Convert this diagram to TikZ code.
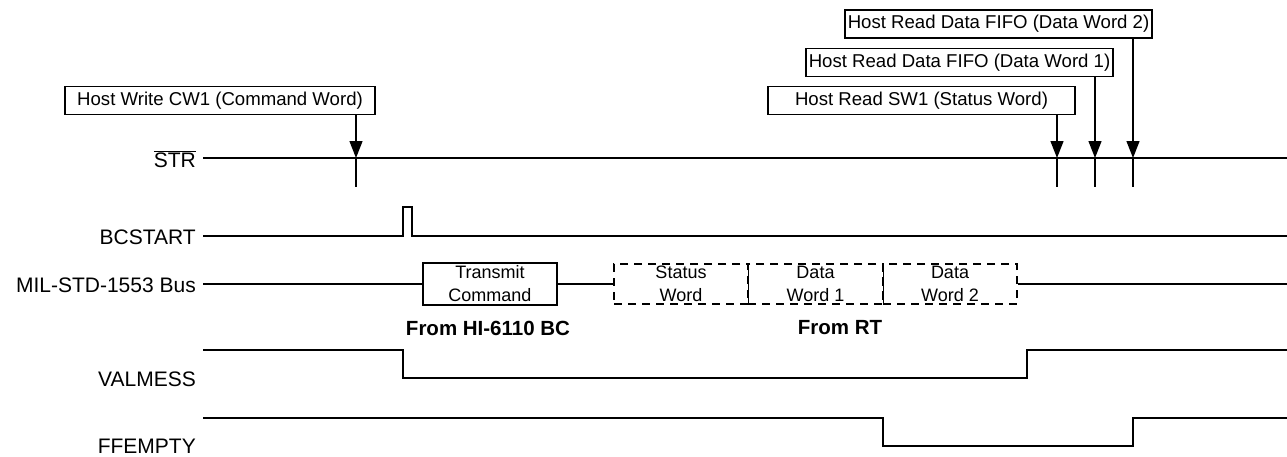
\documentclass[tikz,border=0pt]{standalone}
\usepackage{fontspec}
\setmainfont{Liberation Sans}
\usetikzlibrary{arrows.meta}
\begin{document}
\begin{tikzpicture}[x=1pt,y=-1pt,
  sig/.style={line width=1.3pt,line join=miter},
  lbl/.style={anchor=east,inner sep=0pt,font=\fontsize{21}{24}\selectfont},
  hostbox/.style={draw,line width=1.2pt,minimum height=28pt,inner xsep=2pt,inner ysep=0pt,font=\fontsize{18.6}{22}\selectfont},
  wordbox/.style={draw,line width=1.2pt,minimum width=134pt,minimum height=42pt,inner sep=0pt,align=center,font=\fontsize{18}{23}\selectfont},
  rtbox/.style={wordbox,minimum height=40pt,dash pattern=on 8pt off 6pt},
  arr/.style={line width=1.3pt,-{Triangle[length=17pt,width=13pt]}},
  boldlbl/.style={inner sep=0pt,font=\fontsize{20.5}{24}\selectfont\bfseries}
]
\useasboundingbox (0,0) rectangle (1287,456);

% ---- labels
\node[lbl] (lstr) at (196,159) {$\overline{\mbox{STR}}$};
\node[lbl] (lbc)  at (196,237) {BCSTART};
\node[lbl] (lbus) at (196,285) {MIL-STD-1553 Bus};
\node[lbl] (lval) at (196,379) {VALMESS};
\node[lbl] (lff)  at (196,446.5) {FFEMPTY};

% ---- host boxes
\node[hostbox,minimum width=310pt] (hw)  at (220,100.5)  {Host Write CW1 (Command Word)};
\node[hostbox,minimum width=307pt] (hs1) at (921.5,100.5) {Host Read SW1 (Status Word)};
\node[hostbox,minimum width=307pt] (hd1) at (959.5,62.5)  {Host Read Data FIFO (Data Word 1)};
\node[hostbox,minimum width=307pt] (hd2) at (998.5,24)    {Host Read Data FIFO (Data Word 2)};

% ---- STR
\coordinate (s0) at (203,158);
\coordinate (s1) at (1287,158);
\coordinate (tA) at (356,158);
\coordinate (tB) at (1057,158);
\coordinate (tC) at (1095,158);
\coordinate (tD) at (1133,158);
\draw[sig] (s0) -- (s1);
\foreach \t in {tA,tB,tC,tD} \draw[sig] (\t) -- ++(0,29);
\draw[arr] (hw.south -| tA) -- (tA);
\draw[arr] (hs1.south -| tB) -- (tB);
\draw[arr] (hd1.south -| tC) -- (tC);
\draw[arr] (hd2.south -| tD) -- (tD);

% ---- BCSTART
\coordinate (c0) at (203,236);
\coordinate (c1) at (1287,236);
\draw[sig] (c0) -- (403,236) -- (403,207) -- (412,207) -- (412,236) -- (c1);

% ---- MIL-STD-1553 bus
\coordinate (b0) at (203,284);
\coordinate (b1) at (1287,284);
\node[wordbox] (tc) at (490,284) {Transmit\\Command};
\node[rtbox,minimum width=134pt] (sw) at (681,284) {Status\\Word};
\node[rtbox,minimum width=135pt] (d1) at (815.5,284) {Data\\Word 1};
\node[rtbox,minimum width=134pt] (d2) at (950,284) {Data\\Word 2};
\draw[line width=1.2pt] (sw.north east) -- (sw.south east);
\draw[line width=1.2pt] (d1.north east) -- (d1.south east);
\draw[sig] (b0) -- (tc.west);
\draw[sig] (tc.east) -- (sw.west);
\draw[sig] (d2.east) -- (b1);

\node[boldlbl] (fbc) at (488,328) {From HI-6110 BC};
\node[boldlbl] (frt) at (840,328) {From RT};

% ---- VALMESS
\coordinate (v0) at (203,350);
\coordinate (v1) at (1287,350);
\draw[sig] (v0) -- (403,350) -- (403,378) -- (1027,378) -- (1027,350) -- (v1);

% ---- FFEMPTY
\coordinate (f0) at (203,418);
\coordinate (f1) at (1287,418);
\draw[sig] (f0) -- (883,418) -- (883,446) -- (1133,446) -- (1133,418) -- (f1);
\end{tikzpicture}
\end{document}
